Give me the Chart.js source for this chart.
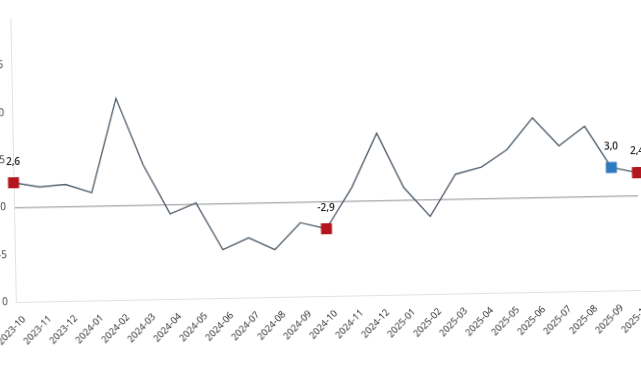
<!DOCTYPE html>
<html>
<head>
<meta charset="utf-8">
<script src="https://cdn.jsdelivr.net/npm/chart.js@4/dist/chart.umd.min.js"></script>
<style>
    html, body { margin: 0; padding: 0; background: #fff; overflow: hidden; }
    body { width: 641px; height: 380px; position: relative; }
    /* la foto original esta un poco girada */
    #chart { position: absolute; left: -28px; top: 0; transform: rotate(-1.1deg); transform-origin: 42px 207px; }
</style>
</head>
<body>
<canvas id="chart" width="700" height="380"></canvas>
<script>
// meses
const meses = ['2023-10', '2023-11', '2023-12', '2024-01', '2024-02', '2024-03', '2024-04', '2024-05',
    '2024-06', '2024-07', '2024-08', '2024-09', '2024-10', '2024-11', '2024-12', '2025-01', '2025-02',
    '2025-03', '2025-04', '2025-05', '2025-06', '2025-07', '2025-08', '2025-09', '2025-10'];

// valores de la serie
const valores = [2.6, 2.1, 2.3, 1.4, 11.3, 4.2, -1.0, 0.1, -4.9, -3.7, -5.0, -2.2, -2.9, 1.4, 7.1,
    1.3, -1.8, 2.6, 3.3, 5.1, 8.4, 5.4, 7.4, 3.0, 2.4];

// meses marcados y con etiqueta
const marcadosRojo = ['2023-10', '2024-10', '2025-10'];
const marcadosAzul = ['2025-09'];

const rojo = '#b3161d';
const azul = '#2f79bf';

function colorPunto(ctx) {
    const mes = meses[ctx.dataIndex];
    if (marcadosAzul.includes(mes)) return azul;
    return rojo;
}

function radioPunto(ctx) {
    const mes = meses[ctx.dataIndex];
    return (marcadosRojo.includes(mes) || marcadosAzul.includes(mes)) ? 7.8 : 0;
}

const etiquetas = {
    id: 'etiquetas',
    afterDatasetsDraw(chart) {
        const ctx = chart.ctx;
        const meta = chart.getDatasetMeta(0);
        ctx.save();
        ctx.font = '600 10px "Open Sans"';
        ctx.fillStyle = '#222';
        ctx.textAlign = 'center';
        ctx.textBaseline = 'middle';
        meta.data.forEach((punto, i) => {
            const mes = meses[i];
            if (marcadosRojo.includes(mes) || marcadosAzul.includes(mes)) {
                const texto = valores[i].toFixed(1).replace('.', ',');
                ctx.fillText(texto, punto.x, punto.y - 21);
            }
        });
        ctx.restore();
    }
};

const ctx = document.getElementById('chart').getContext('2d');
const chart = new Chart(ctx, {
    type: 'line',
    data: {
        labels: meses,
        datasets: [{
            data: valores,
            borderColor: '#56636f',
            borderWidth: 1.4,
            tension: 0,
            pointStyle: 'rect',
            pointRadius: radioPunto,
            pointHoverRadius: radioPunto,
            pointBackgroundColor: colorPunto,
            pointBorderColor: colorPunto,
            pointBorderWidth: 0
        }]
    },
    options: {
        responsive: false,
        animation: false,
        layout: { padding: { top: 18, right: 34, left: 0, bottom: 0 } },
        plugins: {
            legend: { display: false },
            tooltip: { enabled: false }
        },
        scales: {
            x: {
                offset: false,
                grid: { color: 'transparent', drawTicks: false },
                border: { display: true, color: '#e2e2e2', width: 1 },
                ticks: {
                    autoSkip: false,
                    maxRotation: 45,
                    minRotation: 45,
                    padding: 12,
                    labelOffset: 8,
                    color: '#222',
                    font: { family: 'Open Sans', size: 9.5 }
                },
                afterFit(scale) { scale.height = 78; }
            },
            y: {
                min: -10,
                max: 20,
                ticks: {
                    stepSize: 5,
                    padding: 8,
                    color: '#333',
                    font: { family: 'Open Sans', size: 10 },
                    callback: v => (v === 20 ? '' : v)
                },
                grid: {
                    drawTicks: false,
                    color: c => (c.tick && c.tick.value === 0) ? '#b5b5b5' : 'transparent',
                    lineWidth: 1.5
                },
                border: { display: true, color: '#e2e2e2', width: 1 },
                afterFit(scale) { scale.width = 42; }
            }
        }
    },
    plugins: [etiquetas]
});
</script>
</body>
</html>
